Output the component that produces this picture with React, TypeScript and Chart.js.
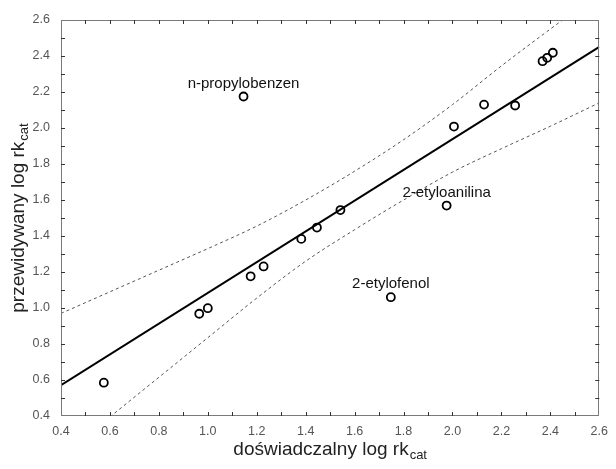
import React, { useEffect, useRef } from "react";
import { Chart, registerables } from "chart.js";

Chart.register(...registerables);

// Measured vs. predicted log rk_cat for each compound
const experimentalLog = [0.575, 0.965, 1.0, 1.175, 1.228, 1.382, 1.446, 1.542, 1.976, 2.006, 2.129, 2.256, 2.368, 2.387, 2.41, 1.146, 1.748];
const predictedLog = [0.585, 0.968, 0.999, 1.176, 1.231, 1.384, 1.447, 1.544, 1.569, 2.008, 2.13, 2.125, 2.371, 2.39, 2.418, 2.175, 1.06];
const pointNames = ["", "", "", "", "", "", "", "", "2-etyloanilina", "", "", "", "", "", "", "n-propylobenzen", "2-etylofenol"];

// Regression line end points
const fitX = [0.4, 2.6];
const fitY = [0.571, 2.451];

// 95% confidence band
const upperX = [0.4, 0.6, 0.8, 1.0, 1.2, 1.4, 1.6, 1.8, 2.0, 2.2, 2.4, 2.45];
const upperY = [0.97, 1.09, 1.21, 1.33, 1.455, 1.6, 1.76, 1.935, 2.13, 2.345, 2.55, 2.6];
const lowerX = [0.6, 0.8, 1.0, 1.2, 1.4, 1.6, 1.8, 2.0, 2.2, 2.4, 2.6];
const lowerY = [0.395, 0.615, 0.835, 1.055, 1.26, 1.435, 1.6, 1.755, 1.885, 2.01, 2.14];

const axisMin = 0.4;
const axisMax = 2.6;
const majorStep = 0.2;
const minorStep = 0.1;

const xTitle = "doświadczalny log rk";
const yTitle = "przewidywany log rk";
const titleSub = "cat";

const FONT = "'Liberation Sans', Arial, sans-serif";

const toPoints = (xs: number[], ys: number[]) => xs.map((x, i) => ({ x, y: ys[i] }));

const framePlugin = {
  id: "frameAndTicks",
  afterDatasetsDraw(chart: any) {
    const { ctx, chartArea: a, scales } = chart;
    const xs = scales.x;
    const ys = scales.y;
    ctx.save();
    ctx.strokeStyle = "#7a7a7a";
    ctx.lineWidth = 1;
    ctx.strokeRect(Math.round(a.left) + 0.5, Math.round(a.top) + 0.5, Math.round(a.right - a.left) - 1, Math.round(a.bottom - a.top) - 1);
    ctx.strokeStyle = "#333";
    const len = 4;
    const n = Math.round((axisMax - axisMin) / minorStep);
    ctx.beginPath();
    for (let i = 1; i < n; i++) {
      const v = axisMin + i * minorStep;
      const px = Math.round(xs.getPixelForValue(v)) + 0.5;
      const py = Math.round(ys.getPixelForValue(v)) + 0.5;
      ctx.moveTo(px, a.bottom);
      ctx.lineTo(px, a.bottom - len);
      ctx.moveTo(px, a.top);
      ctx.lineTo(px, a.top + len);
      ctx.moveTo(a.left, py);
      ctx.lineTo(a.left + len, py);
      ctx.moveTo(a.right, py);
      ctx.lineTo(a.right - len, py);
    }
    ctx.stroke();
    ctx.restore();
  },
};

const labelPlugin = {
  id: "pointNames",
  afterDatasetsDraw(chart: any) {
    const { ctx, scales } = chart;
    ctx.save();
    ctx.fillStyle = "#111";
    ctx.font = `15px ${FONT}`;
    ctx.textAlign = "center";
    ctx.textBaseline = "middle";
    pointNames.forEach((name, i) => {
      if (!name) return;
      const px = scales.x.getPixelForValue(experimentalLog[i]);
      const py = scales.y.getPixelForValue(predictedLog[i]);
      ctx.fillText(name, px, py - 13);
    });
    ctx.restore();
  },
};

function drawSubTitle(ctx: CanvasRenderingContext2D, main: string, sub: string, cx: number, baseline: number) {
  ctx.font = `19px ${FONT}`;
  const w1 = ctx.measureText(main).width;
  ctx.font = `13px ${FONT}`;
  const w2 = ctx.measureText(sub).width;
  const start = cx - (w1 + 1 + w2) / 2;
  ctx.textAlign = "left";
  ctx.textBaseline = "alphabetic";
  ctx.font = `19px ${FONT}`;
  ctx.fillText(main, start, baseline);
  ctx.font = `13px ${FONT}`;
  ctx.fillText(sub, start + w1 + 1, baseline + 4);
}

const titlePlugin = {
  id: "axisTitles",
  afterDraw(chart: any) {
    const { ctx, chartArea: a } = chart;
    ctx.save();
    ctx.fillStyle = "#222";
    drawSubTitle(ctx, xTitle, titleSub, (a.left + a.right) / 2, 455);
    ctx.translate(24, (a.top + a.bottom) / 2);
    ctx.rotate(-Math.PI / 2);
    drawSubTitle(ctx, yTitle, titleSub, 0, 0);
    ctx.restore();
  },
};

export default function App() {
  const canvasRef = useRef<HTMLCanvasElement | null>(null);

  useEffect(() => {
    if (!canvasRef.current) return;
    const tickFont = { family: FONT, size: 12.5 };
    const chart = new Chart(canvasRef.current, {
      type: "scatter",
      data: {
        datasets: [
          {
            label: "związki",
            data: toPoints(experimentalLog, predictedLog),
            pointRadius: 4,
            pointBorderWidth: 1.8,
            pointBorderColor: "#000",
            pointBackgroundColor: "rgba(0,0,0,0)",
            showLine: false,
          },
          {
            label: "regresja",
            data: toPoints(fitX, fitY),
            showLine: true,
            borderColor: "#000",
            borderWidth: 2,
            pointRadius: 0,
          },
          {
            label: "górna granica",
            data: toPoints(upperX, upperY),
            showLine: true,
            borderColor: "#555",
            borderWidth: 1,
            borderDash: [3, 3],
            pointRadius: 0,
            cubicInterpolationMode: "monotone",
          },
          {
            label: "dolna granica",
            data: toPoints(lowerX, lowerY),
            showLine: true,
            borderColor: "#555",
            borderWidth: 1,
            borderDash: [3, 3],
            pointRadius: 0,
            cubicInterpolationMode: "monotone",
          },
        ],
      },
      options: {
        animation: false,
        responsive: false,
        devicePixelRatio: 1,
        layout: { padding: { left: 0, top: 20, right: 12, bottom: 0 } },
        plugins: { legend: { display: false }, tooltip: { enabled: false } },
        scales: {
          x: {
            type: "linear",
            min: axisMin,
            max: axisMax,
            grid: { display: false, drawTicks: false },
            border: { display: false },
            ticks: {
              stepSize: majorStep,
              color: "#555",
              font: tickFont,
              padding: 8,
              maxRotation: 0,
              callback: (v: any) => Number(v).toFixed(1),
            },
            afterFit: (scale: any) => {
              scale.height = 53;
            },
          },
          y: {
            type: "linear",
            min: axisMin,
            max: axisMax,
            grid: { display: false, drawTicks: false },
            border: { display: false },
            ticks: {
              stepSize: majorStep,
              color: "#555",
              font: tickFont,
              padding: 11,
              callback: (v: any) => Number(v).toFixed(1),
            },
            afterFit: (scale: any) => {
              scale.width = 61;
            },
          },
        },
      },
      plugins: [framePlugin, labelPlugin, titlePlugin],
    } as any);
    return () => chart.destroy();
  }, []);

  return (
    <div style={{ position: "absolute", left: 0, top: 0, width: 616, height: 469, background: "#fff" }}>
      <canvas ref={canvasRef} width={616} height={469} />
    </div>
  );
}
